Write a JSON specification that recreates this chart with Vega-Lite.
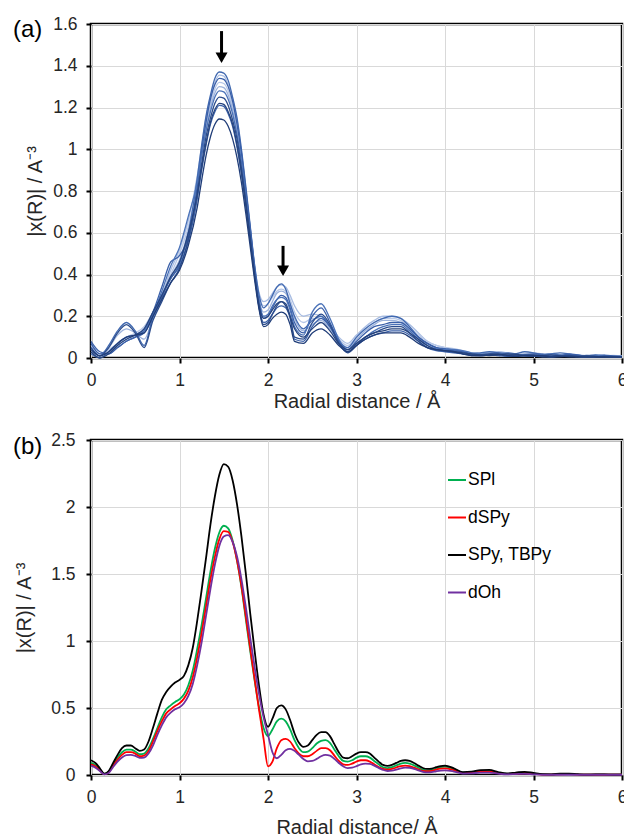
{
 "$schema": "https://vega.github.io/schema/vega-lite/v6.json",
 "padding": {"left": 11, "top": 13, "right": 2, "bottom": 5},
 "config": {
  "font": "Liberation Sans",
  "view": {"stroke": "#000000", "strokeWidth": 2.5},
  "axis": {"grid": true, "gridColor": "#D9D9D9", "gridWidth": 1, "domain": false, "tickColor": "#000000", "tickSize": 5, "tickWidth": 2, "labelFont": "Liberation Sans", "labelFontSize": 17.5, "labelColor": "#262626", "titleFont": "Liberation Sans", "titleFontSize": 20, "titleFontWeight": "normal", "titleColor": "#262626", "labelFlush": false}
 },
 "resolve": {"scale": {"color": "independent"}, "legend": {"color": "independent"}},
 "datasets": {
  "fa": [
   {"r":0,"a":0.05,"b":0.03,"c":0.07,"d":0.04,"e":0.06,"f":0.02,"g":0.05,"h":0.03,"i":0.08,"j":0.04},
   {"r":0.1,"a":0.01,"b":0.01,"c":0.02,"d":0.01,"e":0.02,"f":0,"g":0.01,"h":0,"i":0.03,"j":0.01},
   {"r":0.2,"a":0.06,"b":0.03,"c":0.02,"d":0.04,"e":0.05,"f":0.03,"g":0.05,"h":0.02,"i":0.02,"j":0.03},
   {"r":0.3,"a":0.13,"b":0.06,"c":0.05,"d":0.07,"e":0.11,"f":0.07,"g":0.12,"h":0.06,"i":0.05,"j":0.07},
   {"r":0.4,"a":0.17,"b":0.09,"c":0.08,"d":0.1,"e":0.14,"f":0.1,"g":0.16,"h":0.09,"i":0.08,"j":0.1},
   {"r":0.5,"a":0.13,"b":0.11,"c":0.1,"d":0.12,"e":0.12,"f":0.11,"g":0.12,"h":0.11,"i":0.1,"j":0.11},
   {"r":0.6,"a":0.06,"b":0.14,"c":0.13,"d":0.15,"e":0.09,"f":0.13,"g":0.05,"h":0.14,"i":0.12,"j":0.12},
   {"r":0.7,"a":0.2,"b":0.21,"c":0.22,"d":0.22,"e":0.19,"f":0.21,"g":0.18,"h":0.22,"i":0.2,"j":0.2},
   {"r":0.8,"a":0.3,"b":0.3,"c":0.34,"d":0.31,"e":0.29,"f":0.32,"g":0.27,"h":0.3,"i":0.29,"j":0.28},
   {"r":0.9,"a":0.38,"b":0.42,"c":0.46,"d":0.4,"e":0.39,"f":0.44,"g":0.36,"h":0.39,"i":0.38,"j":0.36},
   {"r":1.0,"a":0.45,"b":0.52,"c":0.49,"d":0.5,"e":0.47,"f":0.53,"g":0.43,"h":0.46,"i":0.44,"j":0.42},
   {"r":1.1,"a":0.6,"b":0.66,"c":0.58,"d":0.63,"e":0.61,"f":0.68,"g":0.57,"h":0.6,"i":0.56,"j":0.54},
   {"r":1.2,"a":0.86,"b":0.87,"c":0.82,"d":0.84,"e":0.82,"f":0.84,"g":0.79,"h":0.78,"i":0.76,"j":0.72},
   {"r":1.25,"a":1.02,"b":1.01,"c":0.99,"d":0.98,"e":0.97,"f":0.97,"g":0.93,"h":0.91,"i":0.9,"j":0.85},
   {"r":1.3,"a":1.16,"b":1.15,"c":1.13,"d":1.12,"e":1.1,"f":1.09,"g":1.06,"h":1.03,"i":1.02,"j":0.97},
   {"r":1.35,"a":1.26,"b":1.25,"c":1.24,"d":1.22,"e":1.2,"f":1.18,"g":1.15,"h":1.13,"i":1.12,"j":1.06},
   {"r":1.4,"a":1.34,"b":1.32,"c":1.31,"d":1.29,"e":1.27,"f":1.25,"g":1.22,"h":1.19,"i":1.18,"j":1.12},
   {"r":1.45,"a":1.37,"b":1.355,"c":1.34,"d":1.32,"e":1.3,"f":1.28,"g":1.25,"h":1.22,"i":1.21,"j":1.145},
   {"r":1.5,"a":1.365,"b":1.35,"c":1.335,"d":1.315,"e":1.295,"f":1.275,"g":1.245,"h":1.215,"i":1.205,"j":1.14},
   {"r":1.55,"a":1.33,"b":1.31,"c":1.3,"d":1.28,"e":1.26,"f":1.24,"g":1.21,"h":1.18,"i":1.17,"j":1.11},
   {"r":1.6,"a":1.25,"b":1.24,"c":1.23,"d":1.21,"e":1.19,"f":1.17,"g":1.14,"h":1.12,"i":1.11,"j":1.05},
   {"r":1.65,"a":1.15,"b":1.14,"c":1.12,"d":1.11,"e":1.09,"f":1.07,"g":1.05,"h":1.02,"i":1.01,"j":0.96},
   {"r":1.7,"a":1.0,"b":0.99,"c":0.98,"d":0.96,"e":0.95,"f":0.94,"g":0.91,"h":0.89,"i":0.88,"j":0.84},
   {"r":1.75,"a":0.82,"b":0.81,"c":0.8,"d":0.79,"e":0.78,"f":0.77,"g":0.75,"h":0.73,"i":0.73,"j":0.69},
   {"r":1.8,"a":0.63,"b":0.62,"c":0.62,"d":0.61,"e":0.6,"f":0.59,"g":0.58,"h":0.56,"i":0.56,"j":0.53},
   {"r":1.85,"a":0.44,"b":0.44,"c":0.43,"d":0.43,"e":0.42,"f":0.41,"g":0.4,"h":0.39,"i":0.39,"j":0.37},
   {"r":1.9,"a":0.3,"b":0.31,"c":0.27,"d":0.3,"e":0.28,"f":0.27,"g":0.24,"h":0.25,"i":0.24,"j":0.23},
   {"r":1.95,"a":0.24,"b":0.27,"c":0.19,"d":0.25,"e":0.22,"f":0.2,"g":0.16,"h":0.19,"i":0.17,"j":0.15},
   {"r":2.0,"a":0.26,"b":0.28,"c":0.2,"d":0.26,"e":0.23,"f":0.21,"g":0.17,"h":0.2,"i":0.18,"j":0.16},
   {"r":2.05,"a":0.3,"b":0.31,"c":0.24,"d":0.29,"e":0.27,"f":0.25,"g":0.21,"h":0.23,"i":0.21,"j":0.19},
   {"r":2.1,"a":0.34,"b":0.34,"c":0.28,"d":0.32,"e":0.31,"f":0.28,"g":0.25,"h":0.26,"i":0.24,"j":0.21},
   {"r":2.15,"a":0.355,"b":0.35,"c":0.3,"d":0.33,"e":0.32,"f":0.29,"g":0.27,"h":0.27,"i":0.25,"j":0.22},
   {"r":2.2,"a":0.33,"b":0.34,"c":0.29,"d":0.32,"e":0.31,"f":0.28,"g":0.26,"h":0.25,"i":0.24,"j":0.21},
   {"r":2.25,"a":0.26,"b":0.3,"c":0.24,"d":0.28,"e":0.26,"f":0.23,"g":0.2,"h":0.2,"i":0.19,"j":0.16},
   {"r":2.3,"a":0.2,"b":0.25,"c":0.17,"d":0.22,"e":0.19,"f":0.15,"g":0.1,"h":0.14,"i":0.09,"j":0.08},
   {"r":2.4,"a":0.14,"b":0.2,"c":0.12,"d":0.17,"e":0.13,"f":0.11,"g":0.09,"h":0.1,"i":0.08,"j":0.07},
   {"r":2.5,"a":0.18,"b":0.21,"c":0.2,"d":0.19,"e":0.16,"f":0.22,"g":0.17,"h":0.14,"i":0.15,"j":0.12},
   {"r":2.6,"a":0.2,"b":0.2,"c":0.24,"d":0.19,"e":0.18,"f":0.26,"g":0.21,"h":0.17,"i":0.19,"j":0.14},
   {"r":2.7,"a":0.15,"b":0.16,"c":0.17,"d":0.15,"e":0.14,"f":0.19,"g":0.16,"h":0.13,"i":0.15,"j":0.11},
   {"r":2.8,"a":0.08,"b":0.1,"c":0.08,"d":0.09,"e":0.08,"f":0.09,"g":0.07,"h":0.07,"i":0.08,"j":0.06},
   {"r":2.9,"a":0.05,"b":0.07,"c":0.04,"d":0.06,"e":0.05,"f":0.04,"g":0.025,"h":0.04,"i":0.03,"j":0.03},
   {"r":3.0,"a":0.1,"b":0.11,"c":0.08,"d":0.1,"e":0.09,"f":0.07,"g":0.06,"h":0.07,"i":0.06,"j":0.06},
   {"r":3.1,"a":0.14,"b":0.15,"c":0.12,"d":0.14,"e":0.13,"f":0.1,"g":0.1,"h":0.1,"i":0.09,"j":0.09},
   {"r":3.2,"a":0.17,"b":0.18,"c":0.15,"d":0.17,"e":0.16,"f":0.13,"g":0.12,"h":0.12,"i":0.11,"j":0.11},
   {"r":3.3,"a":0.19,"b":0.2,"c":0.16,"d":0.19,"e":0.18,"f":0.15,"g":0.14,"h":0.13,"i":0.12,"j":0.12},
   {"r":3.4,"a":0.2,"b":0.2,"c":0.17,"d":0.19,"e":0.18,"f":0.16,"g":0.15,"h":0.14,"i":0.13,"j":0.12},
   {"r":3.5,"a":0.19,"b":0.19,"c":0.17,"d":0.18,"e":0.17,"f":0.16,"g":0.15,"h":0.14,"i":0.13,"j":0.12},
   {"r":3.6,"a":0.15,"b":0.16,"c":0.14,"d":0.15,"e":0.14,"f":0.13,"g":0.12,"h":0.12,"i":0.11,"j":0.1},
   {"r":3.7,"a":0.1,"b":0.12,"c":0.1,"d":0.11,"e":0.1,"f":0.09,"g":0.08,"h":0.09,"i":0.08,"j":0.07},
   {"r":3.8,"a":0.07,"b":0.08,"c":0.07,"d":0.08,"e":0.07,"f":0.06,"g":0.05,"h":0.06,"i":0.05,"j":0.05},
   {"r":3.9,"a":0.05,"b":0.06,"c":0.05,"d":0.06,"e":0.05,"f":0.045,"g":0.04,"h":0.04,"i":0.035,"j":0.04},
   {"r":4.0,"a":0.045,"b":0.05,"c":0.04,"d":0.05,"e":0.045,"f":0.04,"g":0.035,"h":0.035,"i":0.03,"j":0.035},
   {"r":4.1,"a":0.04,"b":0.045,"c":0.035,"d":0.04,"e":0.04,"f":0.04,"g":0.03,"h":0.03,"i":0.025,"j":0.03},
   {"r":4.2,"a":0.03,"b":0.035,"c":0.03,"d":0.03,"e":0.03,"f":0.035,"g":0.02,"h":0.025,"i":0.02,"j":0.02},
   {"r":4.3,"a":0.02,"b":0.025,"c":0.02,"d":0.025,"e":0.02,"f":0.025,"g":0.012,"h":0.02,"i":0.015,"j":0.012},
   {"r":4.4,"a":0.025,"b":0.02,"c":0.015,"d":0.025,"e":0.02,"f":0.02,"g":0.015,"h":0.015,"i":0.012,"j":0.01},
   {"r":4.5,"a":0.03,"b":0.025,"c":0.02,"d":0.02,"e":0.025,"f":0.015,"g":0.02,"h":0.012,"i":0.015,"j":0.015},
   {"r":4.6,"a":0.025,"b":0.03,"c":0.025,"d":0.02,"e":0.02,"f":0.02,"g":0.018,"h":0.015,"i":0.012,"j":0.018},
   {"r":4.7,"a":0.015,"b":0.025,"c":0.02,"d":0.025,"e":0.015,"f":0.025,"g":0.01,"h":0.02,"i":0.008,"j":0.012},
   {"r":4.8,"a":0.02,"b":0.015,"c":0.012,"d":0.02,"e":0.015,"f":0.02,"g":0.01,"h":0.018,"i":0.01,"j":0.008},
   {"r":4.9,"a":0.03,"b":0.02,"c":0.015,"d":0.015,"e":0.02,"f":0.012,"g":0.015,"h":0.01,"i":0.012,"j":0.01},
   {"r":5.0,"a":0.025,"b":0.025,"c":0.02,"d":0.015,"e":0.02,"f":0.01,"g":0.015,"h":0.008,"i":0.01,"j":0.012},
   {"r":5.1,"a":0.015,"b":0.02,"c":0.018,"d":0.02,"e":0.015,"f":0.015,"g":0.01,"h":0.012,"i":0.006,"j":0.01},
   {"r":5.2,"a":0.02,"b":0.012,"c":0.01,"d":0.018,"e":0.01,"f":0.02,"g":0.006,"h":0.015,"i":0.006,"j":0.005},
   {"r":5.3,"a":0.025,"b":0.015,"c":0.012,"d":0.012,"e":0.012,"f":0.015,"g":0.01,"h":0.01,"i":0.008,"j":0.006},
   {"r":5.4,"a":0.02,"b":0.02,"c":0.018,"d":0.01,"e":0.015,"f":0.008,"g":0.012,"h":0.006,"i":0.008,"j":0.008},
   {"r":5.5,"a":0.012,"b":0.015,"c":0.015,"d":0.015,"e":0.012,"f":0.008,"g":0.008,"h":0.008,"i":0.005,"j":0.006},
   {"r":5.6,"a":0.01,"b":0.01,"c":0.008,"d":0.012,"e":0.008,"f":0.012,"g":0.005,"h":0.01,"i":0.004,"j":0.004},
   {"r":5.7,"a":0.015,"b":0.012,"c":0.01,"d":0.008,"e":0.01,"f":0.012,"g":0.006,"h":0.008,"i":0.005,"j":0.005},
   {"r":5.8,"a":0.012,"b":0.015,"c":0.012,"d":0.01,"e":0.01,"f":0.008,"g":0.008,"h":0.005,"i":0.006,"j":0.005},
   {"r":5.9,"a":0.008,"b":0.01,"c":0.01,"d":0.012,"e":0.008,"f":0.006,"g":0.006,"h":0.005,"i":0.004,"j":0.004},
   {"r":6.0,"a":0.008,"b":0.01,"c":0.008,"d":0.01,"e":0.008,"f":0.006,"g":0.005,"h":0.005,"i":0.004,"j":0.004}
  ],
  "arrows": [
   {"x":1.475,"y1":1.566,"y2":1.46,"yt":1.438},
   {"x":2.17,"y1":0.537,"y2":0.44,"yt":0.418}
  ],
  "fb": [
   {"r":0,"SPl":0.09,"dSPy":0.08,"SPy, TBPy":0.11,"dOh":0.07},
   {"r":0.05,"SPl":0.075,"dSPy":0.065,"SPy, TBPy":0.09,"dOh":0.055},
   {"r":0.1,"SPl":0.04,"dSPy":0.035,"SPy, TBPy":0.05,"dOh":0.03},
   {"r":0.15,"SPl":0.008,"dSPy":0.006,"SPy, TBPy":0.01,"dOh":0.005},
   {"r":0.2,"SPl":0.025,"dSPy":0.02,"SPy, TBPy":0.03,"dOh":0.015},
   {"r":0.25,"SPl":0.08,"dSPy":0.07,"SPy, TBPy":0.09,"dOh":0.06},
   {"r":0.3,"SPl":0.13,"dSPy":0.115,"SPy, TBPy":0.15,"dOh":0.1},
   {"r":0.35,"SPl":0.17,"dSPy":0.15,"SPy, TBPy":0.2,"dOh":0.13},
   {"r":0.4,"SPl":0.19,"dSPy":0.17,"SPy, TBPy":0.22,"dOh":0.148},
   {"r":0.45,"SPl":0.19,"dSPy":0.17,"SPy, TBPy":0.22,"dOh":0.15},
   {"r":0.5,"SPl":0.175,"dSPy":0.16,"SPy, TBPy":0.2,"dOh":0.142},
   {"r":0.55,"SPl":0.155,"dSPy":0.14,"SPy, TBPy":0.18,"dOh":0.128},
   {"r":0.6,"SPl":0.16,"dSPy":0.145,"SPy, TBPy":0.19,"dOh":0.13},
   {"r":0.65,"SPl":0.2,"dSPy":0.18,"SPy, TBPy":0.25,"dOh":0.16},
   {"r":0.7,"SPl":0.27,"dSPy":0.25,"SPy, TBPy":0.35,"dOh":0.22},
   {"r":0.75,"SPl":0.35,"dSPy":0.33,"SPy, TBPy":0.46,"dOh":0.3},
   {"r":0.8,"SPl":0.43,"dSPy":0.4,"SPy, TBPy":0.56,"dOh":0.37},
   {"r":0.85,"SPl":0.49,"dSPy":0.46,"SPy, TBPy":0.62,"dOh":0.43},
   {"r":0.9,"SPl":0.52,"dSPy":0.49,"SPy, TBPy":0.66,"dOh":0.465},
   {"r":0.95,"SPl":0.545,"dSPy":0.515,"SPy, TBPy":0.69,"dOh":0.49},
   {"r":1.0,"SPl":0.565,"dSPy":0.535,"SPy, TBPy":0.71,"dOh":0.505},
   {"r":1.05,"SPl":0.6,"dSPy":0.57,"SPy, TBPy":0.74,"dOh":0.535},
   {"r":1.1,"SPl":0.67,"dSPy":0.63,"SPy, TBPy":0.82,"dOh":0.59},
   {"r":1.15,"SPl":0.78,"dSPy":0.73,"SPy, TBPy":0.95,"dOh":0.68},
   {"r":1.2,"SPl":0.94,"dSPy":0.88,"SPy, TBPy":1.15,"dOh":0.82},
   {"r":1.25,"SPl":1.12,"dSPy":1.06,"SPy, TBPy":1.38,"dOh":0.99},
   {"r":1.3,"SPl":1.32,"dSPy":1.26,"SPy, TBPy":1.62,"dOh":1.19},
   {"r":1.35,"SPl":1.52,"dSPy":1.46,"SPy, TBPy":1.87,"dOh":1.39},
   {"r":1.4,"SPl":1.69,"dSPy":1.63,"SPy, TBPy":2.08,"dOh":1.57},
   {"r":1.45,"SPl":1.81,"dSPy":1.76,"SPy, TBPy":2.24,"dOh":1.71},
   {"r":1.5,"SPl":1.86,"dSPy":1.82,"SPy, TBPy":2.32,"dOh":1.78},
   {"r":1.55,"SPl":1.84,"dSPy":1.815,"SPy, TBPy":2.3,"dOh":1.79},
   {"r":1.6,"SPl":1.75,"dSPy":1.74,"SPy, TBPy":2.2,"dOh":1.74},
   {"r":1.65,"SPl":1.6,"dSPy":1.6,"SPy, TBPy":2.02,"dOh":1.63},
   {"r":1.7,"SPl":1.4,"dSPy":1.41,"SPy, TBPy":1.78,"dOh":1.46},
   {"r":1.75,"SPl":1.16,"dSPy":1.18,"SPy, TBPy":1.5,"dOh":1.25},
   {"r":1.8,"SPl":0.92,"dSPy":0.94,"SPy, TBPy":1.2,"dOh":1.02},
   {"r":1.85,"SPl":0.7,"dSPy":0.71,"SPy, TBPy":0.92,"dOh":0.8},
   {"r":1.9,"SPl":0.5,"dSPy":0.48,"SPy, TBPy":0.66,"dOh":0.6},
   {"r":1.95,"SPl":0.35,"dSPy":0.27,"SPy, TBPy":0.45,"dOh":0.43},
   {"r":2.0,"SPl":0.29,"dSPy":0.065,"SPy, TBPy":0.36,"dOh":0.3},
   {"r":2.05,"SPl":0.34,"dSPy":0.1,"SPy, TBPy":0.42,"dOh":0.17},
   {"r":2.1,"SPl":0.4,"dSPy":0.2,"SPy, TBPy":0.5,"dOh":0.125},
   {"r":2.15,"SPl":0.42,"dSPy":0.26,"SPy, TBPy":0.52,"dOh":0.15},
   {"r":2.2,"SPl":0.4,"dSPy":0.27,"SPy, TBPy":0.49,"dOh":0.185},
   {"r":2.25,"SPl":0.34,"dSPy":0.25,"SPy, TBPy":0.41,"dOh":0.195},
   {"r":2.3,"SPl":0.26,"dSPy":0.2,"SPy, TBPy":0.31,"dOh":0.18},
   {"r":2.35,"SPl":0.2,"dSPy":0.16,"SPy, TBPy":0.24,"dOh":0.15},
   {"r":2.4,"SPl":0.17,"dSPy":0.14,"SPy, TBPy":0.21,"dOh":0.12},
   {"r":2.45,"SPl":0.175,"dSPy":0.14,"SPy, TBPy":0.22,"dOh":0.102},
   {"r":2.5,"SPl":0.2,"dSPy":0.155,"SPy, TBPy":0.26,"dOh":0.105},
   {"r":2.55,"SPl":0.235,"dSPy":0.18,"SPy, TBPy":0.3,"dOh":0.12},
   {"r":2.6,"SPl":0.255,"dSPy":0.2,"SPy, TBPy":0.32,"dOh":0.14},
   {"r":2.65,"SPl":0.26,"dSPy":0.2,"SPy, TBPy":0.32,"dOh":0.15},
   {"r":2.7,"SPl":0.24,"dSPy":0.185,"SPy, TBPy":0.29,"dOh":0.145},
   {"r":2.75,"SPl":0.19,"dSPy":0.145,"SPy, TBPy":0.23,"dOh":0.12},
   {"r":2.8,"SPl":0.14,"dSPy":0.105,"SPy, TBPy":0.17,"dOh":0.09},
   {"r":2.85,"SPl":0.105,"dSPy":0.08,"SPy, TBPy":0.13,"dOh":0.065},
   {"r":2.9,"SPl":0.1,"dSPy":0.075,"SPy, TBPy":0.125,"dOh":0.052},
   {"r":2.95,"SPl":0.11,"dSPy":0.085,"SPy, TBPy":0.14,"dOh":0.055},
   {"r":3.0,"SPl":0.13,"dSPy":0.1,"SPy, TBPy":0.16,"dOh":0.066},
   {"r":3.05,"SPl":0.14,"dSPy":0.11,"SPy, TBPy":0.17,"dOh":0.08},
   {"r":3.1,"SPl":0.14,"dSPy":0.11,"SPy, TBPy":0.17,"dOh":0.085},
   {"r":3.15,"SPl":0.13,"dSPy":0.1,"SPy, TBPy":0.16,"dOh":0.083},
   {"r":3.2,"SPl":0.105,"dSPy":0.08,"SPy, TBPy":0.13,"dOh":0.07},
   {"r":3.25,"SPl":0.08,"dSPy":0.06,"SPy, TBPy":0.1,"dOh":0.053},
   {"r":3.3,"SPl":0.058,"dSPy":0.045,"SPy, TBPy":0.075,"dOh":0.038},
   {"r":3.35,"SPl":0.052,"dSPy":0.04,"SPy, TBPy":0.068,"dOh":0.03},
   {"r":3.4,"SPl":0.058,"dSPy":0.045,"SPy, TBPy":0.075,"dOh":0.032},
   {"r":3.45,"SPl":0.072,"dSPy":0.056,"SPy, TBPy":0.09,"dOh":0.04},
   {"r":3.5,"SPl":0.085,"dSPy":0.067,"SPy, TBPy":0.105,"dOh":0.05},
   {"r":3.55,"SPl":0.09,"dSPy":0.07,"SPy, TBPy":0.11,"dOh":0.055},
   {"r":3.6,"SPl":0.085,"dSPy":0.066,"SPy, TBPy":0.105,"dOh":0.054},
   {"r":3.65,"SPl":0.072,"dSPy":0.055,"SPy, TBPy":0.09,"dOh":0.046},
   {"r":3.7,"SPl":0.055,"dSPy":0.042,"SPy, TBPy":0.07,"dOh":0.034},
   {"r":3.75,"SPl":0.04,"dSPy":0.031,"SPy, TBPy":0.052,"dOh":0.024},
   {"r":3.8,"SPl":0.035,"dSPy":0.028,"SPy, TBPy":0.045,"dOh":0.02},
   {"r":3.85,"SPl":0.038,"dSPy":0.031,"SPy, TBPy":0.048,"dOh":0.022},
   {"r":3.9,"SPl":0.048,"dSPy":0.04,"SPy, TBPy":0.058,"dOh":0.028},
   {"r":3.95,"SPl":0.058,"dSPy":0.047,"SPy, TBPy":0.067,"dOh":0.033},
   {"r":4.0,"SPl":0.062,"dSPy":0.05,"SPy, TBPy":0.07,"dOh":0.035},
   {"r":4.1,"SPl":0.045,"dSPy":0.036,"SPy, TBPy":0.05,"dOh":0.026},
   {"r":4.2,"SPl":0.018,"dSPy":0.015,"SPy, TBPy":0.022,"dOh":0.011},
   {"r":4.3,"SPl":0.02,"dSPy":0.017,"SPy, TBPy":0.025,"dOh":0.012},
   {"r":4.4,"SPl":0.03,"dSPy":0.025,"SPy, TBPy":0.037,"dOh":0.018},
   {"r":4.5,"SPl":0.03,"dSPy":0.025,"SPy, TBPy":0.038,"dOh":0.018},
   {"r":4.6,"SPl":0.018,"dSPy":0.015,"SPy, TBPy":0.022,"dOh":0.01},
   {"r":4.7,"SPl":0.008,"dSPy":0.007,"SPy, TBPy":0.012,"dOh":0.005},
   {"r":4.8,"SPl":0.012,"dSPy":0.01,"SPy, TBPy":0.018,"dOh":0.007},
   {"r":4.9,"SPl":0.016,"dSPy":0.013,"SPy, TBPy":0.024,"dOh":0.009},
   {"r":5.0,"SPl":0.01,"dSPy":0.008,"SPy, TBPy":0.015,"dOh":0.005},
   {"r":5.1,"SPl":0.004,"dSPy":0.003,"SPy, TBPy":0.006,"dOh":0.002},
   {"r":5.2,"SPl":0.003,"dSPy":0.003,"SPy, TBPy":0.005,"dOh":0.002},
   {"r":5.3,"SPl":0.006,"dSPy":0.005,"SPy, TBPy":0.01,"dOh":0.002},
   {"r":5.4,"SPl":0.007,"dSPy":0.006,"SPy, TBPy":0.011,"dOh":0.002},
   {"r":5.5,"SPl":0.004,"dSPy":0.003,"SPy, TBPy":0.006,"dOh":0.002},
   {"r":5.6,"SPl":0.002,"dSPy":0.002,"SPy, TBPy":0.003,"dOh":0.002},
   {"r":5.7,"SPl":0.002,"dSPy":0.002,"SPy, TBPy":0.004,"dOh":0.002},
   {"r":5.8,"SPl":0.002,"dSPy":0.002,"SPy, TBPy":0.004,"dOh":0.002},
   {"r":5.9,"SPl":0.002,"dSPy":0.002,"SPy, TBPy":0.002,"dOh":0.002},
   {"r":6.0,"SPl":0.002,"dSPy":0.002,"SPy, TBPy":0.002,"dOh":0.002}
  ]
 },
 "columns": 1,
 "align": "none",
 "spacing": 16,
 "concat": [
  {
   "width": 531,
   "height": 334,
   "title": {"text": "(a)", "anchor": "start", "frame": "group", "orient": "top", "offset": 0, "dx": -78, "dy": 46, "baseline": "alphabetic", "fontSize": 24, "fontWeight": "normal", "color": "#000000", "font": "Liberation Sans"},
   "layer": [
    {
     "data": {"name": "fa"},
     "transform": [{"fold": ["b", "d", "e", "a", "c", "f", "i", "g", "h", "j"], "as": ["s", "v"]}],
     "mark": {"type": "line", "interpolate": "monotone", "strokeWidth": 1.3},
     "encoding": {
      "x": {"field": "r", "type": "quantitative", "scale": {"domain": [0, 6], "nice": false}, "axis": {"title": "Radial distance / Å", "values": [0, 1, 2, 3, 4, 5, 6], "format": "~g", "labelPadding": 8, "titlePadding": 3}},
      "y": {"field": "v", "type": "quantitative", "scale": {"domain": [0, 1.6], "nice": false}, "axis": {"title": "|x(R)| / A⁻³", "values": [0, 0.2, 0.4, 0.6, 0.8, 1, 1.2, 1.4, 1.6], "format": "~g", "labelPadding": 9, "titlePadding": 7}},
      "color": {"field": "s", "type": "nominal", "scale": {"domain": ["b", "d", "e", "a", "c", "f", "i", "g", "h", "j"], "range": ["#A9BDE2", "#B7C8E8", "#9DB3DC", "#4169B0", "#3A5FA8", "#4A72B8", "#3C62AA", "#2B4C8C", "#26447F", "#203D78"]}, "legend": null}
     }
    },
    {
     "data": {"name": "arrows"},
     "mark": {"type": "rule", "strokeWidth": 3, "color": "#000000"},
     "encoding": {
      "x": {"field": "x", "type": "quantitative"},
      "y": {"field": "y1", "type": "quantitative"},
      "y2": {"field": "y2"}
     }
    },
    {
     "data": {"name": "arrows"},
     "mark": {"type": "point", "shape": "triangle-down", "filled": true, "size": 144, "color": "#000000", "opacity": 1},
     "encoding": {
      "x": {"field": "x", "type": "quantitative"},
      "y": {"field": "yt", "type": "quantitative"}
     }
    }
   ]
  },
  {
   "width": 531,
   "height": 335,
   "title": {"text": "(b)", "anchor": "start", "frame": "group", "orient": "top", "offset": 0, "dx": -78, "dy": 47, "baseline": "alphabetic", "fontSize": 24, "fontWeight": "normal", "color": "#000000", "font": "Liberation Sans"},
   "data": {"name": "fb"},
   "transform": [{"fold": ["SPl", "dSPy", "SPy, TBPy", "dOh"], "as": ["s", "v"]}],
   "mark": {"type": "line", "interpolate": "monotone", "strokeWidth": 1.8},
   "encoding": {
    "x": {"field": "r", "type": "quantitative", "scale": {"domain": [0, 6], "nice": false}, "axis": {"title": "Radial distance/ Å", "values": [0, 1, 2, 3, 4, 5, 6], "format": "~g", "labelPadding": 8, "titlePadding": 12}},
    "y": {"field": "v", "type": "quantitative", "scale": {"domain": [0, 2.5], "nice": false}, "axis": {"title": "|x(R)| / A⁻³", "values": [0, 0.5, 1, 1.5, 2, 2.5], "format": "~g", "labelPadding": 11, "titlePadding": 16}},
    "color": {"field": "s", "type": "nominal", "scale": {"domain": ["SPl", "dSPy", "SPy, TBPy", "dOh"], "range": ["#00B050", "#FF0000", "#000000", "#7030A0"]}, "legend": {"title": null, "orient": "none", "legendX": 356, "legendY": 30, "symbolType": "stroke", "symbolSize": 324, "symbolStrokeWidth": 2, "labelFontSize": 17.5, "labelColor": "#000000", "labelFont": "Liberation Sans", "rowPadding": 18.5, "labelOffset": 1, "padding": 0}}
   }
  }
 ]
}
